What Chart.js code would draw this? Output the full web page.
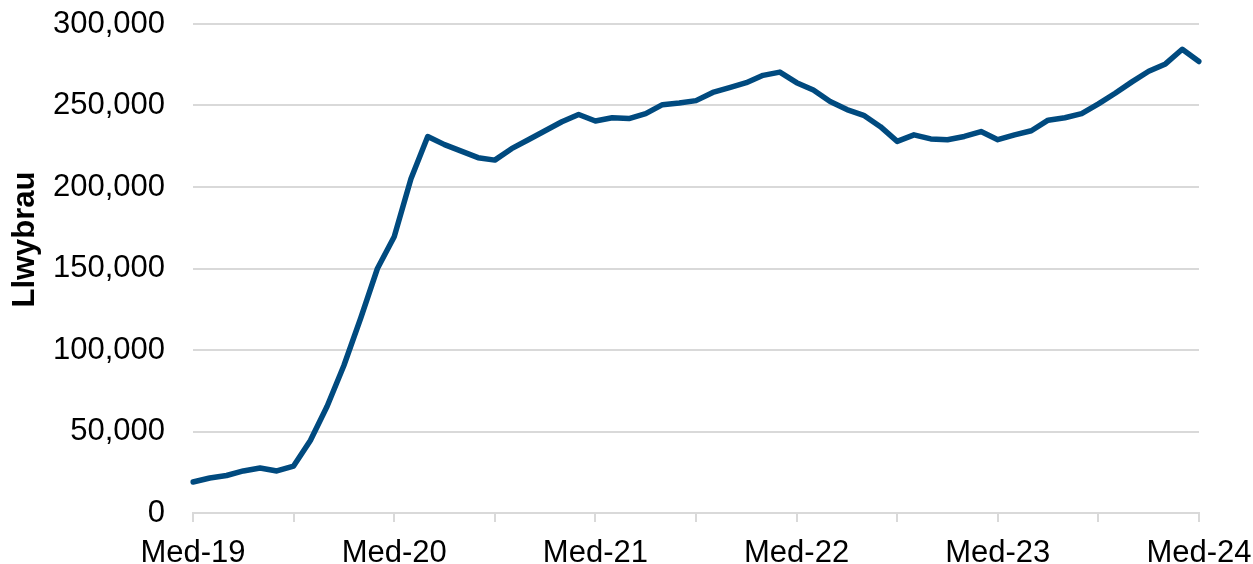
<!DOCTYPE html>
<html>
<head>
<meta charset="utf-8">
<script src="https://cdn.jsdelivr.net/npm/chart.js@4"></script>
<style>
  html, body { margin: 0; padding: 0; background: #fff; }
  #wrap { width: 1253px; height: 564px; }
</style>
</head>
<body>
<div id="wrap"><canvas id="llwybrauChart" width="1253" height="564"></canvas></div>
<script>
// Llwybrau per month, Med-19 .. Med-24

const MONTHS = ['Ion','Chwe','Maw','Ebr','Mai','Meh','Gor','Awst','Med','Hyd','Tach','Rhag'];
const START_MONTH = 8; // Med
const START_YEAR = 19;

const PATHWAYS = [
  19000, 21500, 23000, 25800, 27600, 25800, 28800, 44500, 65500, 90500,
  119500, 150000, 169500, 205000, 231000, 226000, 222000, 218000, 216500, 223500,
  229000, 234500, 240000, 244500, 240500, 242500, 242000, 245000, 250500, 251500,
  253000, 258000, 261000, 264000, 268500, 270500, 264000, 259500, 252500, 247500,
  244000, 237000, 228000, 232000, 229500, 229000, 231000, 234000, 229000, 232000,
  234500, 241000, 242500, 245000, 251000, 257500, 264500, 271000, 275500, 284500,
  277000
];

const Y_TICKS = { min: 0, max: 300000, step: 50000 };
const Y_TITLE = 'Llwybrau';

const labels = PATHWAYS.map((_, i) => {
  const m = (START_MONTH + i) % 12;
  const y = START_YEAR + Math.floor((START_MONTH + i) / 12);
  return `${MONTHS[m]}-${y}`;
});

const FONT = "'Liberation Sans', Arial, sans-serif";
const GRID = '#d9d9d9';

// axis title sits a bit above the middle of the plot in the original
const yTitlePlugin = {
  id: 'yTitle',
  afterDraw(chart) {
    const { ctx, chartArea } = chart;
    ctx.save();
    ctx.translate(25, (chartArea.top + chartArea.bottom) / 2 - 29);
    ctx.rotate(-Math.PI / 2);
    ctx.font = `bold 31px ${FONT}`;
    ctx.fillStyle = '#000';
    ctx.textAlign = 'center';
    ctx.textBaseline = 'middle';
    ctx.fillText(Y_TITLE, 0, 0);
    ctx.restore();
  }
};

new Chart(document.getElementById('llwybrauChart'), {
  type: 'line',
  data: {
    labels,
    datasets: [{
      label: Y_TITLE,
      data: PATHWAYS,
      borderColor: '#004a7f',
      borderWidth: 5.5,
      borderCapStyle: 'round',
      borderJoinStyle: 'round',
      pointRadius: 0,
      tension: 0,
      fill: false
    }]
  },
  plugins: [yTitlePlugin],
  options: {
    responsive: false,
    animation: false,
    layout: { padding: { top: 0, right: 0, left: 6, bottom: 0 } },
    plugins: { legend: { display: false }, tooltip: { enabled: false } },
    scales: {
      x: {
        offset: false,
        afterFit: (scale) => {
          scale.height = 51;
          scale.paddingRight = 54;
        },
        grid: {
          drawOnChartArea: false,
          drawTicks: true,
          tickLength: 9,
          lineWidth: 2,
          color: (ctx) => (ctx.index % 6 === 0 ? GRID : 'rgba(0,0,0,0)')
        },
        border: { display: true, color: GRID, width: 2 },
        ticks: {
          autoSkip: false,
          maxRotation: 0,
          padding: 13,
          color: '#000',
          font: { family: FONT, size: 31 },
          callback: function (v, i) { return i % 12 === 0 ? this.getLabelForValue(v) : ''; }
        }
      },
      y: {
        min: Y_TICKS.min,
        max: Y_TICKS.max,
        afterFit: (scale) => {
          scale.width = 187;
          // tick padding would otherwise be added above the top label
          scale.paddingTop = 24;
        },
        grid: { color: GRID, lineWidth: 2, drawTicks: false },
        border: { display: false },
        ticks: {
          stepSize: Y_TICKS.step,
          padding: 28,
          color: '#000',
          font: { family: FONT, size: 31 },
          callback: (v) => v.toLocaleString('en-US')
        },
        title: { display: false }
      }
    }
  }
});
</script>
</body>
</html>
